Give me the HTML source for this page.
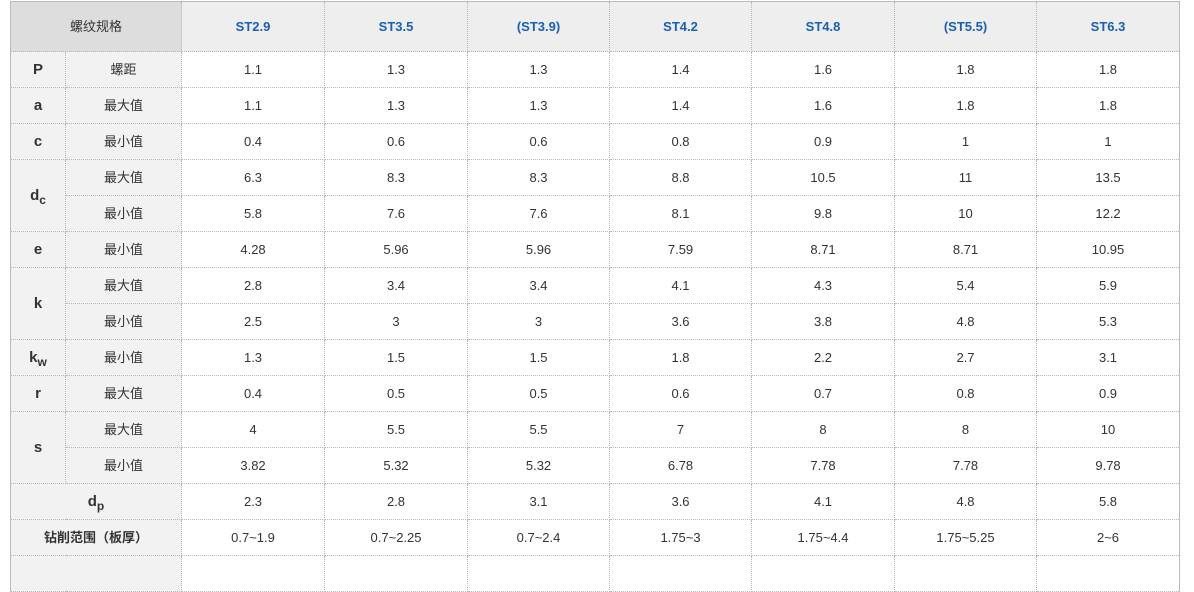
<!DOCTYPE html>
<html><head><meta charset="utf-8"><style>
body{margin:0;background:#fff;width:1194px;height:563px;overflow:hidden;font-family:"Liberation Sans","Noto Sans CJK SC",sans-serif;}
table{position:absolute;left:10px;top:1px;border-collapse:collapse;table-layout:fixed;width:1170px;border:1px solid #bbb;border-bottom:none}
td{border:1px dotted #b5b5b5;text-align:center;font-size:13px;color:#333;padding:0;height:35px;line-height:16px;vertical-align:middle}
tr.h td{height:49px;background:#eee;color:#1a5fb4;font-weight:bold;}
tr.h td.f{background:#ddd;color:#333;font-weight:normal;}
td.l{background:#f2f2f2;font-weight:bold;font-size:15px;color:#333}
td.m{background:#f2f2f2;}
td.b{background:#f2f2f2;font-weight:bold;}
sub{font-size:12px;vertical-align:-4px;line-height:0}
</style></head><body>
<table>
<colgroup><col style="width:55px"><col style="width:116px"><col style="width:143px"><col style="width:143px"><col style="width:142px"><col style="width:142px"><col style="width:143px"><col style="width:142px"><col style="width:143px"></colgroup>
<tr class="h"><td class="f" colspan="2">螺纹规格</td><td>ST2.9</td><td>ST3.5</td><td>(ST3.9)</td><td>ST4.2</td><td>ST4.8</td><td>(ST5.5)</td><td>ST6.3</td></tr>
<tr><td class="l">P</td><td class="m">螺距</td><td>1.1</td><td>1.3</td><td>1.3</td><td>1.4</td><td>1.6</td><td>1.8</td><td>1.8</td></tr>
<tr><td class="l">a</td><td class="m">最大值</td><td>1.1</td><td>1.3</td><td>1.3</td><td>1.4</td><td>1.6</td><td>1.8</td><td>1.8</td></tr>
<tr><td class="l">c</td><td class="m">最小值</td><td>0.4</td><td>0.6</td><td>0.6</td><td>0.8</td><td>0.9</td><td>1</td><td>1</td></tr>
<tr><td class="l" rowspan="2">d<sub>c</sub></td><td class="m">最大值</td><td>6.3</td><td>8.3</td><td>8.3</td><td>8.8</td><td>10.5</td><td>11</td><td>13.5</td></tr>
<tr><td class="m">最小值</td><td>5.8</td><td>7.6</td><td>7.6</td><td>8.1</td><td>9.8</td><td>10</td><td>12.2</td></tr>
<tr><td class="l">e</td><td class="m">最小值</td><td>4.28</td><td>5.96</td><td>5.96</td><td>7.59</td><td>8.71</td><td>8.71</td><td>10.95</td></tr>
<tr><td class="l" rowspan="2">k</td><td class="m">最大值</td><td>2.8</td><td>3.4</td><td>3.4</td><td>4.1</td><td>4.3</td><td>5.4</td><td>5.9</td></tr>
<tr><td class="m">最小值</td><td>2.5</td><td>3</td><td>3</td><td>3.6</td><td>3.8</td><td>4.8</td><td>5.3</td></tr>
<tr><td class="l">k<sub>w</sub></td><td class="m">最小值</td><td>1.3</td><td>1.5</td><td>1.5</td><td>1.8</td><td>2.2</td><td>2.7</td><td>3.1</td></tr>
<tr><td class="l">r</td><td class="m">最大值</td><td>0.4</td><td>0.5</td><td>0.5</td><td>0.6</td><td>0.7</td><td>0.8</td><td>0.9</td></tr>
<tr><td class="l" rowspan="2">s</td><td class="m">最大值</td><td>4</td><td>5.5</td><td>5.5</td><td>7</td><td>8</td><td>8</td><td>10</td></tr>
<tr><td class="m">最小值</td><td>3.82</td><td>5.32</td><td>5.32</td><td>6.78</td><td>7.78</td><td>7.78</td><td>9.78</td></tr>
<tr><td class="l" colspan="2">d<sub>p</sub></td><td>2.3</td><td>2.8</td><td>3.1</td><td>3.6</td><td>4.1</td><td>4.8</td><td>5.8</td></tr>
<tr><td class="b" colspan="2">钻削范围（板厚）</td><td>0.7~1.9</td><td>0.7~2.25</td><td>0.7~2.4</td><td>1.75~3</td><td>1.75~4.4</td><td>1.75~5.25</td><td>2~6</td></tr>
<tr><td class="m" colspan="2"></td><td></td><td></td><td></td><td></td><td></td><td></td><td></td></tr>
</table>
</body></html>
